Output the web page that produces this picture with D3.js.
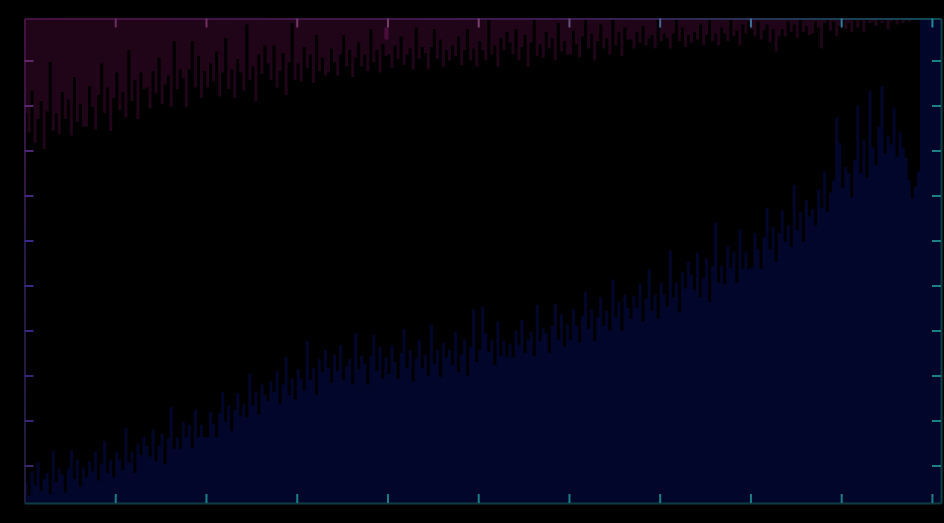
<!DOCTYPE html>
<html><head><meta charset="utf-8">
<script src="https://cdn.jsdelivr.net/npm/d3@7"></script>
<style>html,body{margin:0;padding:0;background:#000;} svg{display:block;}</style>
</head><body>
<svg id="chart" width="944" height="523"></svg>
<script>
// level reached by the lower (blue) series for each bar
const blueValues = [
19,10,26,17,32,13,21,25,11,40,19,28,24,12,28,40,21,34,16,28,
22,33,26,39,20,31,46,25,34,22,39,34,27,55,32,39,25,44,37,49,
43,36,54,33,43,51,31,48,69,41,49,41,59,49,57,42,67,49,57,49,
49,66,58,49,65,79,59,70,53,67,78,63,71,62,91,70,79,64,84,77,
73,86,79,93,71,84,102,77,88,74,94,88,80,113,87,95,77,101,92,107,
95,85,104,93,110,87,96,101,84,118,94,103,98,84,103,117,93,109,88,102,
91,110,99,88,105,121,95,107,86,101,114,95,104,90,124,98,107,89,112,102,
107,97,119,92,104,114,90,109,134,99,107,136,118,106,114,97,126,103,113,102,
111,102,120,110,127,105,114,119,103,137,113,122,118,105,123,138,114,131,109,124,
114,134,123,112,130,146,121,134,113,129,142,123,133,120,154,129,139,120,144,135,
128,143,135,151,126,141,161,133,144,128,152,144,136,173,142,152,132,159,148,166,
157,147,172,142,155,168,139,163,192,152,163,151,176,162,172,152,187,161,172,161,
162,185,174,161,182,202,174,189,166,185,200,179,190,176,217,187,199,179,207,196,
201,190,214,202,226,199,212,220,262,245,215,229,225,209,234,270,225,247,222,280,
242,230,256,283,238,250,244,268,236,252,242,235,220,208,216,226,328,328,328,328,328,328,328
];
// level where the upper (red) series starts for each bar (it runs to the top)
const redLevels = [
265,252,280,245,261,273,241,266,299,253,265,251,279,261,274,250,289,259,271,256,
256,283,269,254,277,298,265,282,253,275,292,267,279,262,307,273,287,261,292,281,
282,268,293,278,302,271,284,290,269,313,281,294,288,269,294,313,282,303,275,293,
282,298,286,306,276,292,315,281,294,275,301,292,280,324,287,296,273,304,291,310,
298,287,310,282,293,305,277,299,325,287,298,286,309,295,304,285,317,293,302,290,
292,308,299,290,304,317,296,307,289,302,312,296,304,293,321,299,307,292,311,303,
304,295,310,301,316,297,304,308,294,322,301,309,305,294,309,321,301,314,296,307,
300,310,303,316,297,307,321,300,308,296,313,307,300,327,304,310,296,315,307,319,
312,304,321,300,309,317,296,312,328,303,311,302,319,308,315,300,325,306,313,304,
304,320,311,302,316,328,308,318,300,313,324,308,315,304,328,310,319,303,322,314,
314,308,319,312,323,310,315,317,308,327,313,318,315,308,318,327,313,322,309,317,
312,319,314,324,310,317,327,313,318,310,322,318,313,328,316,320,310,324,318,326,
321,316,326,314,320,324,312,321,306,316,321,316,326,319,324,315,328,319,323,317,
318,326,322,308,325,328,320,326,316,323,328,321,325,319,328,322,327,319,328,325,
326,323,328,325,327,321,326,328,324,327,325,328,326,327,328,328,328,328,328,328,328,328,328
];
const xTicks = [30,60,90,120,150,180,210,240,270,300];
const yTicks = [30,60,90,120,150,180,210,240,270,300];
const xDomain = [0, 303];
const yDomain = [5, 328];
const markerBar = {index: 119, from: 314, to: 322};

const svg = d3.select("#chart");
const x = d3.scaleLinear().domain(xDomain).range([24.5, 941]);
const y = d3.scaleLinear().domain(yDomain).range([503, 18.5]);

svg.append("rect").attr("width",944).attr("height",523).attr("fill","#000");

const N = blueValues.length;
const bluePts = blueValues.map((v,i)=>[i,v]).concat([[N, blueValues[N-1]]]);
const redPts = redLevels.map((v,i)=>[i,v]).concat([[N, redLevels[N-1]]]);

svg.append("path").datum(bluePts)
  .attr("d", d3.area().curve(d3.curveStepAfter)
    .x(d=>x(d[0])).y0(y(yDomain[0])).y1(d=>y(d[1])))
  .attr("fill","#03062b");
svg.append("path").datum(redPts)
  .attr("d", d3.area().curve(d3.curveStepAfter)
    .x(d=>x(d[0])).y0(d=>y(d[1])).y1(y(yDomain[1])))
  .attr("fill","#200418");
svg.append("rect")
  .attr("x",x(markerBar.index)).attr("width",x(markerBar.index+1)-x(markerBar.index)+1)
  .attr("y",y(markerBar.to)).attr("height",y(markerBar.from)-y(markerBar.to))
  .attr("fill","#4a0d3e");

// gradients for axis lines
const defs = svg.append("defs");
function grad(id,x1,y1,x2,y2,stops){
  const g = defs.append("linearGradient").attr("id",id).attr("gradientUnits","userSpaceOnUse")
    .attr("x1",x1).attr("y1",y1).attr("x2",x2).attr("y2",y2);
  stops.forEach(s=>g.append("stop").attr("offset",s[0]).attr("stop-color",s[1]));
}
grad("gLeft",0,18,0,503,[[0,"#45113f"],[0.5,"#261a4a"],[1,"#221a3c"]]);
grad("gTop",24,0,941,0,[[0,"#45113f"],[0.6,"#3a1a50"],[1,"#104a55"]]);

const leftTickCol = d3.scaleLinear().domain([18,260,503]).range(["#6a2660","#36288a","#3c2268"]);
const topTickCol = d3.scaleLinear().domain([24,480,700,941]).range(["#6a2660","#7a4070","#406c9c","#1c8c9a"]);

function styleAxis(g, lineStroke, tickColor){
  g.select(".domain").attr("stroke",lineStroke).attr("stroke-width",2);
  g.selectAll(".tick line").attr("stroke-width",2);
  g.selectAll(".tick text").remove();
  if (typeof tickColor === "function") g.selectAll(".tick").each(function(d){
    d3.select(this).select("line").attr("stroke",tickColor(d));
  }); else g.selectAll(".tick line").attr("stroke",tickColor);
}

const gl = svg.append("g").attr("transform","translate(24.5,0)")
  .call(d3.axisLeft(y).tickValues(yTicks).tickSizeInner(-9).tickSizeOuter(0).tickFormat(""));
styleAxis(gl,"url(#gLeft)",d=>leftTickCol(y(d)));

const gr = svg.append("g").attr("transform","translate(941,0)")
  .call(d3.axisRight(y).tickValues(yTicks).tickSizeInner(-9).tickSizeOuter(0).tickFormat(""));
styleAxis(gr,"#0d4248","#1a8088");

const gt = svg.append("g").attr("transform","translate(0,18.5)")
  .call(d3.axisTop(x).tickValues(xTicks).tickSizeInner(-9).tickSizeOuter(0).tickFormat(""));
styleAxis(gt,"url(#gTop)",d=>topTickCol(x(d)));

const gb = svg.append("g").attr("transform","translate(0,503)")
  .call(d3.axisBottom(x).tickValues(xTicks).tickSizeInner(-9).tickSizeOuter(0).tickFormat(""));
styleAxis(gb,"#0e3c40","#1a7f86");
</script>
</body></html>
